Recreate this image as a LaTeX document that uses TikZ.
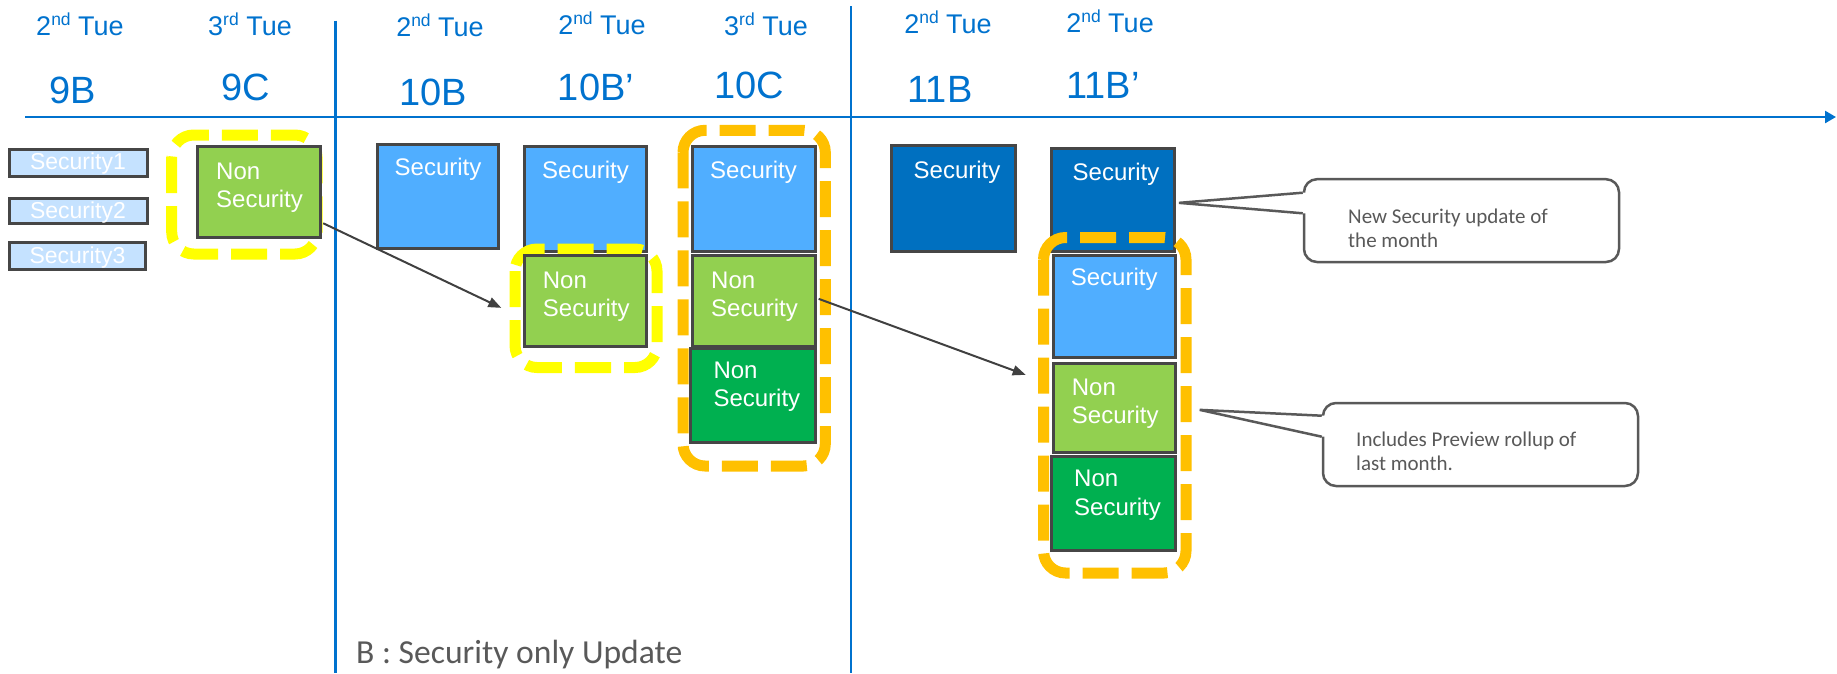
\documentclass[tikz,border=0pt]{standalone}
\usepackage{fontspec}
\setmainfont{Liberation Sans}
\newfontfamily\calibfont{Carlito}
\usetikzlibrary{arrows.meta,calc}
\definecolor{hdblue}{RGB}{0,114,206}
\definecolor{boxline}{RGB}{70,70,70}
\definecolor{secblue}{RGB}{80,174,255}
\definecolor{secdark}{RGB}{0,112,192}
\definecolor{paleblue}{RGB}{197,226,255}
\definecolor{lgreen}{RGB}{146,208,80}
\definecolor{dgreen}{RGB}{0,176,80}
\definecolor{hlyellow}{RGB}{255,255,0}
\definecolor{hlorange}{RGB}{255,192,0}
\definecolor{callgrey}{RGB}{89,89,89}
\definecolor{arrgrey}{RGB}{64,64,64}
\newcommand\hdsup[1]{\raisebox{0.37em}{\fontsize{17.5}{17.5}\selectfont #1}}
\begin{document}
\begin{tikzpicture}[x=1pt,y=-1pt,
  hdtop/.style={anchor=base, text=hdblue, font=\fontsize{27}{30}\selectfont, inner sep=0},
  hdcode/.style={anchor=base, text=hdblue, font=\fontsize{38}{40}\selectfont, inner sep=0},
  ubox/.style={draw=boxline, line width=3pt, inner sep=0, rectangle},
  boxtxt/.style={text=white, font=\fontsize{24}{28.3}\selectfont, inner sep=0, anchor=base},
  nstxt/.style={text=white, font=\fontsize{24}{28.3}\selectfont, inner sep=0, anchor=base west, align=left},
  smalltxt/.style={text=white, font=\fontsize{23}{27}\selectfont, inner sep=0, anchor=base},
  hlrect/.style={line width=11pt, rounded corners=22pt, dash pattern=on 36pt off 13pt},
  axisline/.style={draw=hdblue, line width=2.5pt},
  conn/.style={draw=arrgrey, line width=2pt, -{Triangle[length=13pt,width=10pt]}},
  callbox/.style={draw=callgrey, line width=2.5pt, rounded corners=13pt, fill=white, inner sep=0, rectangle},
  calltail/.style={draw=callgrey, line width=2.5pt},
  calltxt/.style={text=callgrey, font=\calibfont\fontsize{21}{24}\selectfont, inner sep=0, anchor=base west, align=left},
]
\useasboundingbox (0,0) rectangle (1837,673);

% timeline
\coordinate (v1t) at (335.5,20.7);
\coordinate (v1b) at (335.5,673);
\coordinate (v2t) at (851,6);
\coordinate (v2b) at (851,673);
\coordinate (axs) at (25,117);
\coordinate (axe) at (1836,117);
\draw[axisline] (v1t) -- (v1b);
\draw[axisline] (v2t) -- (v2b);
\draw[axisline, -{Triangle[length=11pt,width=12pt]}] (axs) -- (axe);

% headers
\node[hdtop] (h1) at (80,35) {2\hdsup{nd} Tue};
\node[hdtop] (h2) at (250,35) {3\hdsup{rd} Tue};
\node[hdtop] (h3) at (440,36) {2\hdsup{nd} Tue};
\node[hdtop] (h4) at (602,34) {2\hdsup{nd} Tue};
\node[hdtop] (h5) at (766,35) {3\hdsup{rd} Tue};
\node[hdtop] (h6) at (948,33) {2\hdsup{nd} Tue};
\node[hdtop] (h7) at (1110,32) {2\hdsup{nd} Tue};
\node[hdcode] (c1) at (73,103) {9B};
\node[hdcode] (c2) at (246,100) {9C};
\node[hdcode] (c3) at (433,105) {10B};
\node[hdcode] (c4) at (596,100) {10B’};
\node[hdcode] (c5) at (749,98) {10C};
\node[hdcode] (c6) at (940,102) {11B};
\node[hdcode] (c7) at (1103,98) {11B’};

% 9B small boxes
\node[ubox, fill=paleblue, minimum width=137.7pt, minimum height=27.3pt] (s1) at (78.65,163.15) {};
\node[smalltxt] (s1t) at (78,169.3) {Security1};
\node[ubox, fill=paleblue, minimum width=137.7pt, minimum height=24.8pt] (s2) at (78.65,210.6) {};
\node[smalltxt] (s2t) at (78,218.3) {Security2};
\node[ubox, fill=paleblue, minimum width=135.7pt, minimum height=26.7pt] (s3) at (77.65,255.85) {};
\node[smalltxt] (s3t) at (77.5,263.3) {Security3};

% 9C
\draw[hlrect, draw=hlyellow] (171.7,135) rectangle (317,254);
\node[ubox, fill=lgreen, minimum width=122.5pt, minimum height=90.5pt] (b9C) at (258.75,191.75) {};
\node[nstxt] (b9Ct) at (216,207.3) {Non\\Security};

% 10B
\node[ubox, fill=secblue, minimum width=121.5pt, minimum height=103.7pt] (b10B) at (437.75,196.65) {};
\node[boxtxt] (b10Bt) at (438,175) {Security};

% 10B'
\node[ubox, fill=secblue, minimum width=122pt, minimum height=105.3pt] (b10Bps) at (585.2,199.15) {};
\node[boxtxt] (b10Bpst) at (585.5,178.3) {Security};
\draw[hlrect, draw=hlyellow] (515,249) rectangle (657,367.5);
\node[ubox, fill=lgreen, minimum width=121.4pt, minimum height=90.7pt] (b10Bpg) at (585.5,300.85) {};
\node[nstxt] (b10Bpgt) at (542.7,316.6) {Non\\Security};

% 10C
\draw[hlrect, draw=hlorange] (683,130.3) rectangle (825.3,466);
\node[ubox, fill=secblue, minimum width=122.7pt, minimum height=105.3pt] (b10Cs) at (753.85,199.15) {};
\node[boxtxt] (b10Cst) at (753.5,178) {Security};
\node[ubox, fill=lgreen, minimum width=122.7pt, minimum height=90.7pt] (b10Cg) at (753.85,300.85) {};
\node[nstxt] (b10Cgt) at (711,316.6) {Non\\Security};
\node[ubox, fill=dgreen, minimum width=124.4pt, minimum height=93.7pt] (b10Cd) at (753,395.65) {};
\node[nstxt] (b10Cdt) at (713.3,406.6) {Non\\Security};

% 11B
\node[ubox, fill=secdark, minimum width=123.7pt, minimum height=105.4pt] (b11B) at (953.35,198.5) {};
\node[boxtxt] (b11Bt) at (957,178.3) {Security};

% 11B'
\node[ubox, fill=secdark, minimum width=123pt, minimum height=103.3pt] (b11Bpt) at (1113,199.85) {};
\node[boxtxt] (b11Bptt) at (1116,180) {Security};
\draw[hlrect, draw=hlorange] (1043.5,237.5) rectangle (1186,573);
\node[ubox, fill=secblue, minimum width=122pt, minimum height=102.3pt] (b11Bpb) at (1114.2,306.65) {};
\node[boxtxt] (b11Bpbt) at (1114.2,285) {Security};
\node[ubox, fill=lgreen, minimum width=122pt, minimum height=89.3pt] (b11Bpg) at (1114.2,407.85) {};
\node[nstxt] (b11Bpgt) at (1071.7,423.3) {Non\\Security};
\node[ubox, fill=dgreen, minimum width=124.3pt, minimum height=93.7pt] (b11Bpd) at (1113.65,503.35) {};
\node[nstxt] (b11Bpdt) at (1074,515) {Non\\Security};

% arrows
\draw[conn] ($(b9C.east)+(1.7,31.5)$) -- ($(b10Bpg.west)+(-22,7)$);
\draw[conn] ($(b10Cg.east)+(2,-2)$) -- ($(b11Bpg.west)+(-26,-33)$);

% callout 1
\node[callbox, minimum width=315pt, minimum height=82.8pt] (cb1) at (1461.5,220.6) {};
\coordinate (c1a) at ($(cb1.west)+(0,-27.9)$);
\coordinate (c1b) at ($(cb1.west)+(0,-7.3)$);
\coordinate (c1t) at ($(b11Bpt.east)+(3,3)$);
\fill[white] (c1a) -- (c1t) -- (c1b) -- ($(c1b)+(3,0)$) -- ($(c1a)+(3,0)$) -- cycle;
\draw[calltail] (c1a) -- (c1t) -- (c1b);
\node[calltxt] (ct1) at (1348,247) {New Security update of\\the month};

% callout 2
\node[callbox, minimum width=315pt, minimum height=83pt] (cb2) at (1480.5,444.5) {};
\coordinate (c2a) at ($(cb2.west)+(0,-28.8)$);
\coordinate (c2b) at ($(cb2.west)+(0,-7.8)$);
\coordinate (c2t) at ($(b11Bpg.east)+(23,2)$);
\fill[white] (c2a) -- (c2t) -- (c2b) -- ($(c2b)+(3,0)$) -- ($(c2a)+(3,0)$) -- cycle;
\draw[calltail] (c2a) -- (c2t) -- (c2b);
\node[calltxt] (ct2) at (1356,470) {Includes Preview rollup of\\last month.};

% legend
\node[anchor=base west, text=callgrey, font=\calibfont\fontsize{33.6}{38}\selectfont, inner sep=0] (legend) at (356,663) {B : Security only Update};
\end{tikzpicture}
\end{document}
